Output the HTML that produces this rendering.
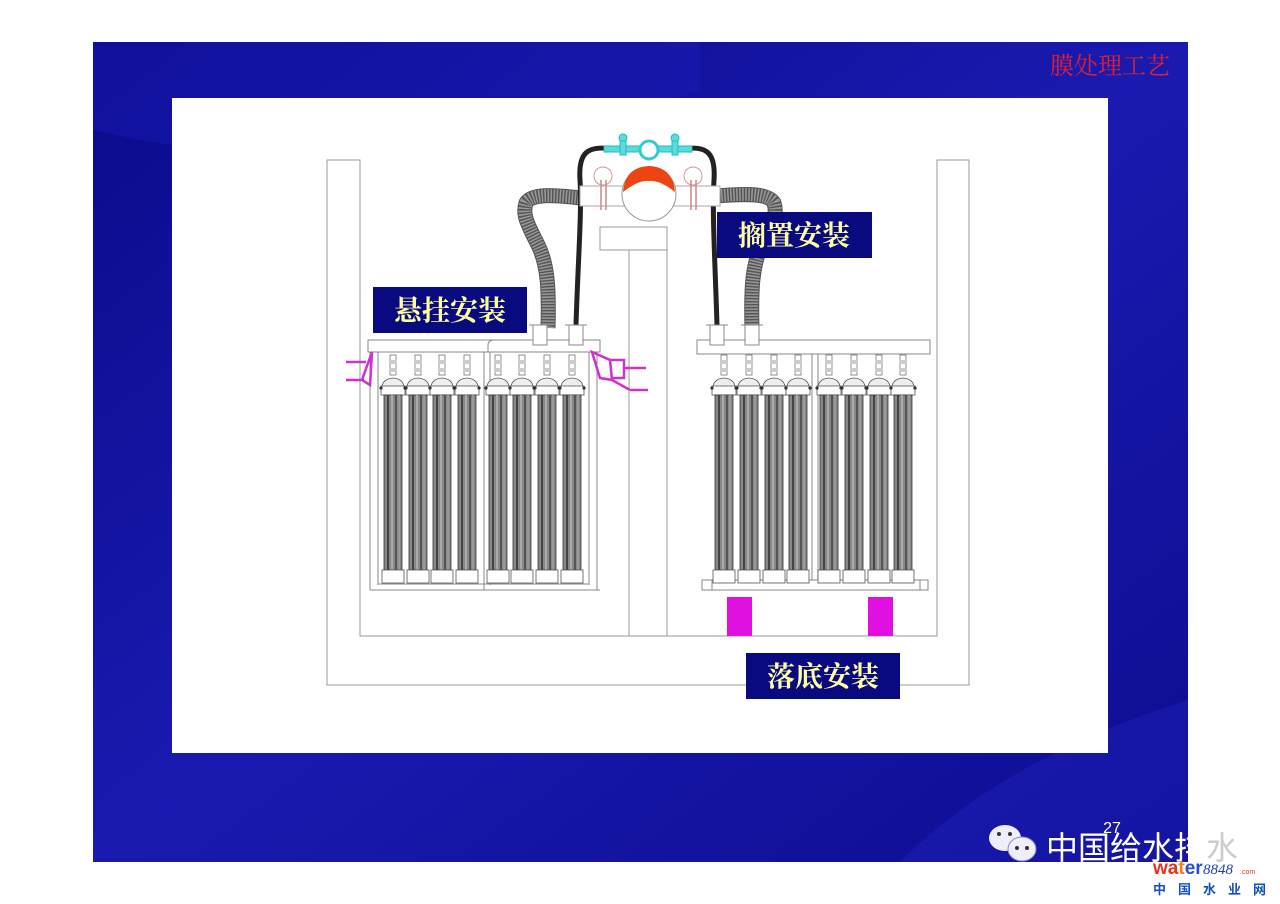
<!DOCTYPE html>
<html><head><meta charset="utf-8"><style>
html,body{margin:0;padding:0;background:#fff;width:1280px;height:904px;overflow:hidden}
svg{display:block}
</style></head><body>
<svg width="1280" height="904" viewBox="0 0 1280 904" xmlns="http://www.w3.org/2000/svg">
<defs>
<linearGradient id="bg" x1="0" y1="0" x2="1" y2="1">
<stop offset="0" stop-color="#0a0a8a"/><stop offset="0.5" stop-color="#1a1ab0"/><stop offset="1" stop-color="#0c0c90"/>
</linearGradient>
<g id="tube">
<rect x="-3" y="355" width="6" height="20" fill="#fff" stroke="#777" stroke-width="0.8"/>
<rect x="-4" y="360" width="8" height="4" fill="#ccc"/>
<rect x="-4" y="368" width="8" height="4" fill="#ccc"/>
<path d="M-11 388 Q-11 379 0 378 Q11 379 11 388 Z" fill="#eee" stroke="#555" stroke-width="0.8"/>
<rect x="-12" y="386" width="24" height="9" fill="#fff" stroke="#555" stroke-width="0.8"/>
<circle cx="-12" cy="388" r="1.6" fill="#333"/><circle cx="12" cy="388" r="1.6" fill="#333"/>
<rect x="-9" y="395" width="18" height="175" fill="#888" stroke="#333" stroke-width="0.8"/>
<rect x="-6" y="395" width="2" height="175" fill="#444"/>
<rect x="-2" y="395" width="2" height="175" fill="#aaa"/>
<rect x="2" y="395" width="2" height="175" fill="#555"/>
<rect x="5" y="395" width="2" height="175" fill="#999"/>
<rect x="-11" y="570" width="22" height="13" fill="#fff" stroke="#555" stroke-width="0.8"/>
</g>
</defs>
<rect x="0" y="0" width="1280" height="904" fill="#fff"/>
<rect x="93" y="42" width="1095" height="820" fill="url(#bg)"/>
<path d="M93 130 Q400 200 700 90 L700 42 L93 42Z" fill="#1c1cb8" opacity="0.4"/>
<path d="M900 862 Q1000 760 1188 700 L1188 862Z" fill="#2424c0" opacity="0.4"/>
<text x="1170" y="74" text-anchor="end" font-family="Liberation Serif,'Noto Serif CJK SC',serif" font-size="24" fill="#e02030">膜处理工艺</text>
<rect x="172" y="98" width="936" height="655" fill="#fff"/>
<!-- tank -->
<g fill="none" stroke="#999" stroke-width="1">
<path d="M327 160 L327 685 L969 685 L969 160 L937 160 L937 636 L360 636 L360 160 Z"/>
<path d="M629 250 L629 636 M667 250 L667 636"/>
<rect x="600" y="227" width="67" height="23"/>
</g>
<!-- hoses -->
<g fill="none" stroke-linecap="butt">
<path d="M548 328 C549 290 548 265 538 245 C528 225 522 215 526 203 C532 192 560 196 582 198" stroke="#555" stroke-width="15"/>
<path d="M548 328 C549 290 548 265 538 245 C528 225 522 215 526 203 C532 192 560 196 582 198" stroke="#999" stroke-width="13" stroke-dasharray="1.5 1.5"/>
<path d="M752 328 C751 290 752 265 762 245 C772 225 778 215 774 203 C768 192 740 194 716 196" stroke="#555" stroke-width="15"/>
<path d="M752 328 C751 290 752 265 762 245 C772 225 778 215 774 203 C768 192 740 194 716 196" stroke="#999" stroke-width="13" stroke-dasharray="1.5 1.5"/>
</g>
<path d="M576 325 C578 260 582 210 580 180 C578 150 590 148 605 148" fill="none" stroke="#222" stroke-width="5"/>
<path d="M717 325 C715 260 712 210 714 180 C716 150 704 148 690 148" fill="none" stroke="#222" stroke-width="5"/>
<!-- cyan top -->
<g fill="#5dd" stroke="#2bb" stroke-width="1">
<rect x="604" y="146" width="88" height="6"/>
<circle cx="649" cy="150" r="9" fill="#fff" stroke="#3cc" stroke-width="3"/>
<circle cx="623" cy="138" r="4"/><circle cx="675" cy="138" r="4"/>
<rect x="620" y="141" width="6" height="14"/><rect x="672" y="141" width="6" height="14"/>
</g>
<!-- valves / red sphere -->
<rect x="580" y="186" width="140" height="20" fill="#fff" stroke="#aaa"/>
<circle cx="649" cy="194" r="27" fill="#fff" stroke="#999"/>
<path d="M623 192 Q625 167 649 166 Q673 167 675 192 Q660 180 649 181 Q638 180 623 192Z" fill="#e41"/>
<circle cx="603" cy="176" r="9" fill="#fff" stroke="#c99"/><circle cx="693" cy="176" r="9" fill="#fff" stroke="#c99"/>
<path d="M601 180 V210 M606 180 V210 M691 180 V210 M696 180 V210" stroke="#c88" stroke-width="1.5"/>
<!-- left frame -->
<g fill="none" stroke="#888" stroke-width="1">
<rect x="368" y="340" width="232" height="12" fill="#fff"/>
<path d="M370 352 V590 M378 352 V585 M597 352 V590 M589 352 V585 M370 590 H600 M378 584 H589"/>
<path d="M488 352 V345 Q488 340 495 340 M484 352 V590 M490 352 V585"/>
<rect x="533" y="325" width="14" height="20" fill="#fff"/><rect x="569" y="325" width="14" height="20" fill="#fff"/>
<path d="M529 325 H551 M565 325 H587"/>
</g>
<use href="#tube" x="393"/><use href="#tube" x="418"/><use href="#tube" x="442"/><use href="#tube" x="467"/>
<use href="#tube" x="498"/><use href="#tube" x="522"/><use href="#tube" x="547"/><use href="#tube" x="572"/>
<!-- magenta brackets -->
<g fill="none" stroke="#d030d0" stroke-width="2.5">
<path d="M372 352 L362 380 L370 385 Z M346 362 H366 M346 380 H364"/>
<path d="M592 352 L600 378 L612 380 L610 360 Z M610 360 H624 V378 H612 M612 380 L630 390 M624 368 H646 M630 390 H648"/>
</g>
<!-- right frame -->
<g fill="none" stroke="#888" stroke-width="1">
<rect x="697" y="340" width="233" height="14" fill="#fff"/>
<path d="M702 580 H928 V590 H702Z M712 590 V580 M920 590 V580"/>
<path d="M812 354 V580 M818 354 V580"/>
<rect x="710" y="325" width="14" height="20" fill="#fff"/><rect x="745" y="325" width="14" height="20" fill="#fff"/>
<path d="M706 325 H728 M741 325 H763"/>
</g>
<use href="#tube" x="724"/><use href="#tube" x="749"/><use href="#tube" x="774"/><use href="#tube" x="798"/>
<use href="#tube" x="829"/><use href="#tube" x="854"/><use href="#tube" x="879"/><use href="#tube" x="903"/>
<rect x="727" y="597" width="25" height="39" fill="#e010e0"/>
<rect x="868" y="597" width="25" height="39" fill="#e010e0"/>
<!-- labels -->
<g font-family="Liberation Serif,'Noto Serif CJK SC',serif" font-size="28" font-weight="bold" fill="#ffffa0" text-anchor="middle">
<rect x="373" y="287" width="154" height="46" fill="#0a0a80"/>
<text x="450" y="320">悬挂安装</text>
<rect x="717" y="212" width="155" height="46" fill="#0a0a80"/>
<text x="794" y="245">搁置安装</text>
<rect x="746" y="653" width="154" height="46" fill="#0a0a80"/>
<text x="823" y="686">落底安装</text>
</g>
<text x="1112" y="833" text-anchor="middle" font-family="Liberation Sans,sans-serif" font-size="16" fill="#fff">27</text>
<!-- wechat logo -->
<ellipse cx="1005" cy="838" rx="16" ry="13" fill="#eef"/>
<ellipse cx="1022" cy="849" rx="14" ry="12" fill="#eef" stroke="#8888c0" stroke-width="1"/>
<circle cx="999" cy="834" r="2" fill="#333"/><circle cx="1010" cy="834" r="2" fill="#333"/>
<circle cx="1017" cy="848" r="2" fill="#333"/><circle cx="1027" cy="848" r="2" fill="#333"/>
<text x="1046" y="859" font-family="Liberation Sans,'Noto Sans CJK SC',sans-serif" font-size="32" fill="#fff">中国给水排<tspan fill="#ccc">水</tspan></text>
<text x="1153" y="874" font-family="Liberation Sans,sans-serif" font-size="19" font-weight="bold" fill="#e83020">wa<tspan fill="#f08020">t</tspan><tspan fill="#2050e0">er</tspan></text>
<text x="1203" y="874" font-family="Liberation Serif,serif" font-style="italic" font-size="15" fill="#2040c0">8848</text>
<text x="1240" y="874" font-family="Liberation Sans,sans-serif" font-size="7" fill="#e03020">.com</text>
<text x="1153" y="894" font-family="Liberation Sans,'Noto Sans CJK SC',sans-serif" font-size="13" font-weight="bold" fill="#1050c0" letter-spacing="12">中国水业网</text>
</svg>
</body></html>
